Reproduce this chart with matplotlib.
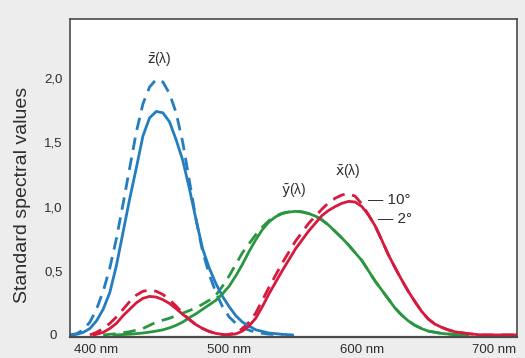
import matplotlib.pyplot as plt

plt.rcParams['font.family'] = ['Liberation Sans', 'DejaVu Sans']

# z-bar (blue)
wl_z2 = [380, 385, 390, 395, 400, 405, 410, 415, 420, 425, 430, 435, 440, 445, 450,
         455, 460, 465, 470, 475, 480, 485, 490, 495, 500, 505, 510, 520, 530, 540, 548]
z_2deg = [0.0, 0.005, 0.02, 0.05, 0.11, 0.20, 0.33, 0.54, 0.80, 1.06, 1.30, 1.55, 1.69, 1.74, 1.73,
          1.66, 1.52, 1.36, 1.14, 0.90, 0.67, 0.52, 0.40, 0.30, 0.22, 0.15, 0.10, 0.04, 0.015, 0.005, 0.0]
wl_z10 = [380, 385, 390, 395, 400, 405, 410, 415, 420, 425, 430, 435, 440, 445, 450,
          455, 460, 465, 470, 475, 480, 485, 490, 495, 500, 505, 510, 520, 530, 540]
z_10deg = [0.0, 0.01, 0.04, 0.10, 0.20, 0.34, 0.52, 0.75, 1.02, 1.30, 1.58, 1.80, 1.93, 1.99, 1.97,
           1.88, 1.73, 1.50, 1.20, 0.90, 0.65, 0.47, 0.33, 0.22, 0.14, 0.09, 0.055, 0.02, 0.006, 0.0]

# x-bar (red)
wl_x2 = [398, 405, 410, 415, 420, 425, 430, 435, 440, 445, 450, 455, 460, 465, 470, 475, 480, 485, 490, 498,
         505, 510, 515, 520, 525, 530, 535, 540, 545, 550, 555, 560, 565, 570, 575, 580, 585, 590, 595,
         600, 605, 610, 615, 620, 625, 630, 635, 640, 645, 650, 655, 660, 665, 670, 680, 690, 717]
x_2deg = [0.0, 0.02, 0.05, 0.09, 0.15, 0.20, 0.25, 0.285, 0.30, 0.295, 0.275, 0.245, 0.205, 0.16, 0.12, 0.08, 0.05, 0.027, 0.012, 0.0,
          0.008, 0.03, 0.07, 0.13, 0.22, 0.32, 0.41, 0.50, 0.585, 0.67, 0.74, 0.81, 0.87, 0.93, 0.97, 1.00, 1.025, 1.04, 1.035,
          1.00, 0.935, 0.85, 0.74, 0.625, 0.525, 0.43, 0.34, 0.26, 0.185, 0.125, 0.085, 0.06, 0.04, 0.025, 0.01, 0.0, 0.0]
wl_x10 = [395, 400, 405, 410, 415, 420, 425, 430, 435, 440, 445, 450, 455, 460, 465, 470, 475, 480, 485, 490, 497,
          505, 510, 515, 520, 525, 530, 535, 540, 545, 550, 555, 560, 565, 570, 575, 580, 585, 590, 595,
          600, 605, 610, 615, 620, 625, 630, 635, 640, 645, 650, 655, 660, 665, 670, 680, 690, 717]
x_10deg = [0.0, 0.02, 0.05, 0.09, 0.14, 0.20, 0.26, 0.31, 0.34, 0.35, 0.34, 0.315, 0.275, 0.225, 0.17, 0.12, 0.08, 0.05, 0.027, 0.012, 0.0,
           0.015, 0.05, 0.10, 0.17, 0.27, 0.37, 0.465, 0.56, 0.645, 0.73, 0.80, 0.87, 0.925, 0.98, 1.03, 1.065, 1.09, 1.10, 1.08,
           1.02, 0.935, 0.85, 0.74, 0.625, 0.525, 0.43, 0.34, 0.26, 0.185, 0.125, 0.085, 0.06, 0.04, 0.025, 0.01, 0.0, 0.0]

# y-bar (green)
wl_y2 = [413, 420, 425, 430, 435, 440, 445, 450, 455, 460, 465, 470, 475, 480, 485, 490, 495, 500, 505,
         510, 515, 520, 525, 530, 535, 540, 545, 550, 555, 560, 565, 570, 575, 580, 585, 590, 595, 600,
         605, 610, 615, 620, 625, 630, 635, 640, 645, 650, 660, 670, 680]
y_2deg = [0.0, 0.003, 0.006, 0.01, 0.015, 0.022, 0.03, 0.04, 0.055, 0.075, 0.10, 0.135, 0.165, 0.20, 0.235, 0.27, 0.32, 0.38, 0.46,
          0.55, 0.65, 0.74, 0.82, 0.88, 0.92, 0.945, 0.957, 0.962, 0.958, 0.945, 0.925, 0.895, 0.855, 0.805, 0.755, 0.70, 0.64, 0.58,
          0.50, 0.42, 0.35, 0.28, 0.21, 0.155, 0.11, 0.075, 0.05, 0.03, 0.012, 0.003, 0.0]
wl_y10 = [405, 415, 425, 435, 445, 455, 465, 475, 485, 490, 495, 500, 505, 510, 515, 520, 525, 530, 535, 540, 545, 550,
          555, 560, 565, 570, 575, 580, 585, 590, 595, 600, 605, 610, 615, 620, 625, 630, 635, 640, 645, 650, 660, 670, 680]
y_10deg = [0.0, 0.01, 0.025, 0.05, 0.10, 0.13, 0.17, 0.21, 0.27, 0.31, 0.38, 0.46, 0.55, 0.64, 0.71, 0.78, 0.84, 0.89, 0.925, 0.948, 0.958, 0.962,
           0.958, 0.945, 0.925, 0.895, 0.855, 0.805, 0.755, 0.70, 0.64, 0.58, 0.50, 0.42, 0.35, 0.28, 0.21, 0.155, 0.11, 0.075, 0.05, 0.03, 0.012, 0.003, 0.0]

x_ticks = [400, 500, 600, 700]
x_labels = ['400 nm', '500 nm', '600 nm', '700 nm']
y_ticks = [0, 0.5, 1.0, 1.5, 2.0]
y_labels = ['0', '0,5', '1,0', '1,5', '2,0']

blue = '#237dbe'
green = '#2a9640'
red = '#d6193c'
txt = '#2e2e2e'

fig = plt.figure(figsize=(5.25, 3.58), dpi=100, facecolor='#ededed')
ax = fig.add_axes([70/525, 1 - 337/358, (517 - 70)/525, (337 - 19)/358])
ax.set_facecolor('white')

lw = 2.0
dash = (4.5, 2.8)
kw = dict(lw=lw, solid_joinstyle='round', solid_capstyle='round')
ax.plot(wl_z10, z_10deg, color=blue, dashes=dash, **kw)
ax.plot(wl_y10, y_10deg, color=green, dashes=dash, **kw)
ax.plot(wl_x10, x_10deg, color=red, dashes=dash, **kw)
ax.plot(wl_z2, z_2deg, color=blue, **kw)
ax.plot(wl_y2, y_2deg, color=green, **kw)
ax.plot(wl_x2, x_2deg, color=red, **kw)

ax.set_xlim(380, 717)
ax.set_ylim(-0.016, 2.46)
ax.set_xticks(x_ticks)
ax.set_xticklabels(x_labels)
ax.set_yticks(y_ticks)
ax.set_yticklabels(y_labels)
ax.tick_params(axis='both', length=0, labelsize=9.5, labelcolor=txt)
ax.tick_params(axis='x', pad=5)
ax.tick_params(axis='y', pad=12)
for lab in ax.get_yticklabels():
    lab.set_horizontalalignment('center')

for s in ax.spines.values():
    s.set_color('#4a4a4a')
    s.set_linewidth(1.2)
ax.spines['bottom'].set_linewidth(1.6)

fs = 10
ax.text(447, 2.15, r'$\bar{\mathrm{z}}$(λ)', ha='center', va='center', fontsize=fs, color=txt)
ax.text(549, 1.13, r'$\bar{\mathrm{y}}$(λ)', ha='center', va='center', fontsize=fs, color=txt)
ax.text(589.5, 1.28, r'$\bar{\mathrm{x}}$(λ)', ha='center', va='center', fontsize=fs, color=txt)
ax.text(604.5, 1.05, '\u2014 10°', ha='left', va='center', fontsize=11, color=txt)
ax.text(612, 0.90, '\u2014 2°', ha='left', va='center', fontsize=11, color=txt)

fig.text(23/525, 1 - 195/358, 'Standard spectral values', rotation=90,
         ha='center', va='center', fontsize=14, color=txt)

fig.savefig('out.png', dpi=100, facecolor=fig.get_facecolor())
